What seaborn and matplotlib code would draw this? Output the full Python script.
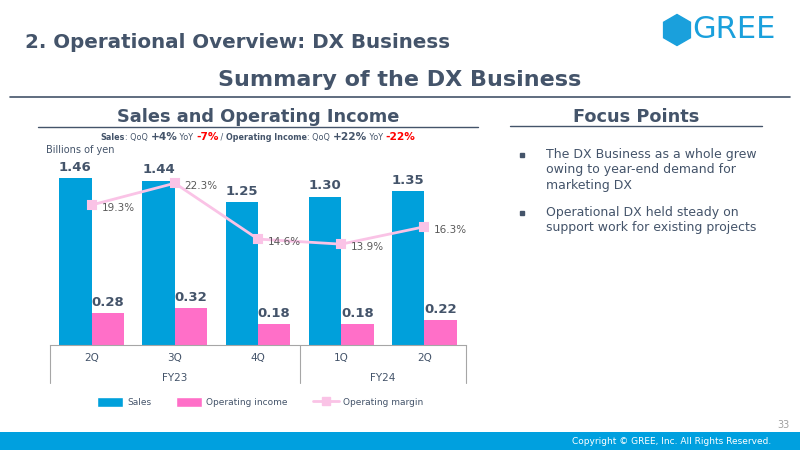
import pandas as pd
import seaborn as sns
import matplotlib.pyplot as plt
import matplotlib.transforms as mtransforms
from matplotlib.patches import Patch, RegularPolygon, Rectangle
from matplotlib.lines import Line2D
from matplotlib.offsetbox import TextArea, HPacker, AnnotationBbox

# DATA ------------------------------------------------------------------------
quarters = ['2Q', '3Q', '4Q', '1Q', '2Q']
fiscal_years = ['FY23', 'FY23', 'FY23', 'FY24', 'FY24']
sales = [1.46, 1.44, 1.25, 1.30, 1.35]
operating_income = [0.28, 0.32, 0.18, 0.18, 0.22]
operating_margin = [19.3, 22.3, 14.6, 13.9, 16.3]  # %
series_names = ['Sales', 'Operating income']
bullets = [
    'The DX Business as a whole grew\nowing to year-end demand for\nmarketing DX',
    'Operational DX held steady on\nsupport work for existing projects',
]

# colours
BLUE = '#00A0DB'
PINK = '#FF6FC8'
LIGHT_PINK = '#FAC3E6'
TEXT = '#44546A'
GRAY = '#A6A6A6'
RED = '#FF0000'

sns.set_style('white')
plt.rcParams['font.family'] = ['DejaVu Sans']

keys = [f'{fy} {q}' for fy, q in zip(fiscal_years, quarters)]  # unique categories
df = pd.DataFrame({
    'key': keys * 2,
    'series': [series_names[0]] * len(keys) + [series_names[1]] * len(keys),
    'value': sales + operating_income,
})
df_margin = pd.DataFrame({'key': keys, 'margin': operating_margin})

fig = plt.figure(figsize=(8, 4.5), dpi=100)

# background axes in pixel coords for the slide decoration
bg = fig.add_axes([0, 0, 1, 1], zorder=-1)
bg.set_xlim(0, 800)
bg.set_ylim(450, 0)
bg.axis('off')

# CHART -----------------------------------------------------------------------
ax = fig.add_axes([50 / 800, 1 - 345 / 450, 416 / 800, 185 / 450])
ax.patch.set_alpha(0)
sns.barplot(data=df, x='key', y='value', hue='series', order=keys,
            palette=[BLUE, PINK], width=0.78, saturation=1, linewidth=0,
            legend=False, ax=ax)
for c in ax.containers:
    ax.bar_label(c, fmt='%.2f', padding=3, fontsize=9.5, fontweight='bold', color=TEXT)

ax2 = ax.twinx()
sns.pointplot(data=df_margin, x='key', y='margin', order=keys, color=LIGHT_PINK,
              markers='s', markersize=6, linewidth=2, errorbar=None, ax=ax2)
for i, m in enumerate(operating_margin):
    ax2.annotate(f'{m:.1f}%', (i, m), xytext=(7, -2), textcoords='offset points',
                 ha='left', va='center', fontsize=7.5, color='#595959')

ax.set_xlim(-0.5, len(keys) - 0.5)
ax.set_ylim(0, 1.62)
ax2.set_ylim(0, 25.5)
for a in (ax, ax2):
    for s in ['top', 'right', 'left']:
        a.spines[s].set_visible(False)
    a.set_yticks([])
    a.set_ylabel('')
ax2.spines['bottom'].set_visible(False)
ax.spines['bottom'].set_color(GRAY)
ax.spines['bottom'].set_linewidth(0.8)
ax.set_xlabel('')
ax.set_xticks(range(len(keys)))
ax.set_xticklabels(quarters, fontsize=7.5, color=TEXT)
ax.tick_params(axis='x', length=0, pad=6)

# fiscal year brackets
trans = mtransforms.blended_transform_factory(ax.transData, ax.transAxes)
bounds = [-0.5]
for i in range(1, len(fiscal_years)):
    if fiscal_years[i] != fiscal_years[i - 1]:
        bounds.append(i - 0.5)
bounds.append(len(fiscal_years) - 0.5)
fy_labels = sorted(set(fiscal_years))
for b in bounds:
    ax.plot([b, b], [0, -0.205], transform=trans, clip_on=False, color=GRAY, lw=0.8)
for lo, hi, fy in zip(bounds[:-1], bounds[1:], fy_labels):
    ax.text((lo + hi) / 2, -0.178, fy, transform=trans, ha='center', va='center',
            fontsize=7.5, color=TEXT)

# legend
handles = [
    Patch(facecolor=BLUE, label='Sales'),
    Patch(facecolor=PINK, label='Operating income'),
    Line2D([], [], color=LIGHT_PINK, lw=2, marker='s', markersize=6, label='Operating margin'),
]
leg = fig.legend(handles=handles, loc='center', bbox_to_anchor=(260 / 800, 1 - 402 / 450),
                 ncol=3, frameon=False, fontsize=6.5, handlelength=2.9, handleheight=1.3,
                 columnspacing=2.8, handletextpad=0.4)
for t in leg.get_texts():
    t.set_color(TEXT)

# SLIDE DECORATION --------------------------------------------------------------
bg.text(25, 42, '2. Operational Overview: DX Business', fontsize=14.3, fontweight='bold',
        color=TEXT, va='center')
bg.add_patch(RegularPolygon((677, 30), 6, radius=15.5, color='#1AA0DC'))
bg.text(692, 30, 'GREE', fontsize=22, color='#1AA0DC', va='center', ha='left')

bg.text(400, 80, 'Summary of the DX Business', ha='center', va='center', fontsize=16,
        fontweight='bold', color=TEXT)
bg.plot([10, 790], [97, 97], color=TEXT, lw=1.2)

bg.text(258, 117, 'Sales and Operating Income', ha='center', va='center', fontsize=12.8,
        fontweight='bold', color=TEXT)
bg.plot([38, 478], [127, 127], color=TEXT, lw=1)
bg.text(636, 117, 'Focus Points', ha='center', va='center', fontsize=12.8,
        fontweight='bold', color=TEXT)
bg.plot([510, 762], [126, 126], color=TEXT, lw=1)

# mixed-format subtitle
small = dict(fontsize=5.8, color=TEXT)
small_b = dict(fontsize=5.8, color=TEXT, fontweight='bold')
big_b = dict(fontsize=7.6, color=TEXT, fontweight='bold')
big_r = dict(fontsize=7.6, color=RED, fontweight='bold')
parts = [('Sales', small_b), (': QoQ ', small), ('+4%', big_b), (' YoY ', small),
         ('-7%', big_r), (' / ', small), ('Operating Income', small_b), (': QoQ ', small),
         ('+22%', big_b), (' YoY ', small), ('-22%', big_r)]
hp = HPacker(children=[TextArea(t, textprops=p) for t, p in parts], align='baseline',
             pad=0, sep=0)
bg.add_artist(AnnotationBbox(hp, (258, 137), xycoords='data', frameon=False,
                             box_alignment=(0.5, 0.5)))

bg.text(46, 150, 'Billions of yen', fontsize=7, color=TEXT, va='center')

for y, txt in zip([148, 206], bullets):
    bg.plot(522, y + 7, marker='s', markersize=3.5, color=TEXT)
    bg.text(546, y, txt, fontsize=9, color=TEXT, va='top', linespacing=1.25)

bg.text(790, 425, '33', fontsize=7, color='#A0A0A0', ha='right', va='center')
bg.add_patch(Rectangle((0, 432), 800, 18, color='#00A0DF', lw=0))
bg.text(771, 441, 'Copyright © GREE, Inc. All Rights Reserved.', fontsize=6.5,
        color='white', ha='right', va='center')

fig.savefig('out.png', dpi=100)
